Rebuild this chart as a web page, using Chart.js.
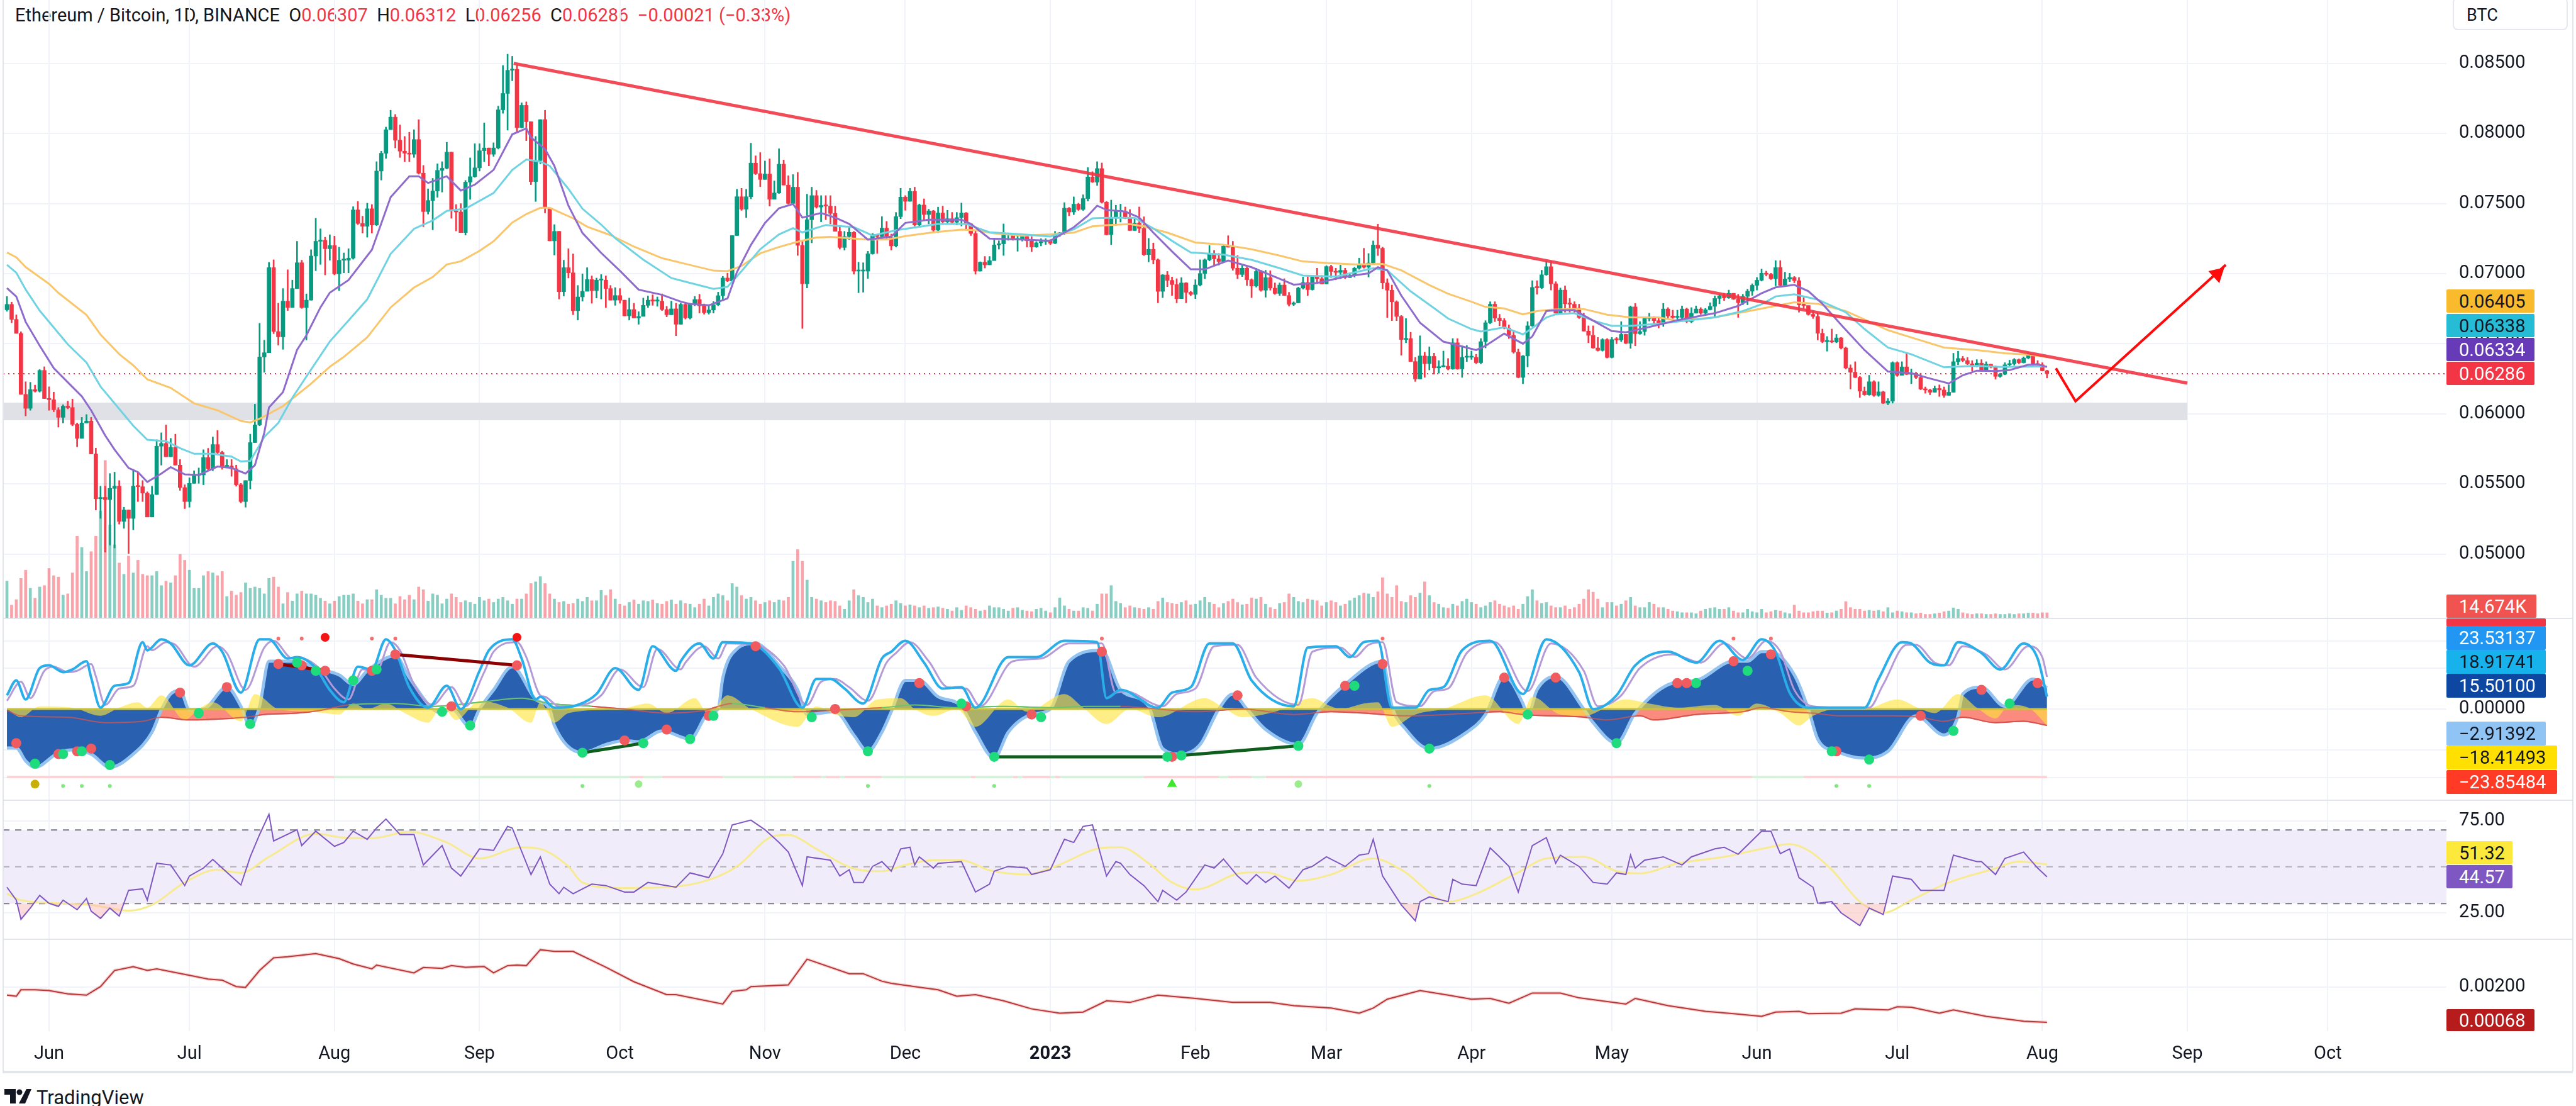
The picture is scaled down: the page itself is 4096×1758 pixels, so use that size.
<!DOCTYPE html>
<html><head><meta charset="utf-8"><title>Ethereum / Bitcoin</title>
<script src="https://cdn.jsdelivr.net/npm/chart.js@4/dist/chart.umd.js"></script>
<style>
html,body{margin:0;padding:0;background:#fff;width:4096px;height:1758px;overflow:hidden;font-family:Roboto,sans-serif;color:#131722}
canvas{position:absolute;left:5px;display:block}
.sep{position:absolute;background:#e3e5ec}
.tag{position:absolute;left:3890px;box-sizing:border-box;padding-left:20px;font-size:29px;display:flex;align-items:center;border-radius:2px;white-space:nowrap}
#head{position:absolute;left:24px;top:6px;font-size:29px;line-height:36px;white-space:pre}
#head b{font-weight:400;color:#f23645}
#btc{position:absolute;left:3900px;top:-4px;width:183px;height:52px;border:2px solid #e6e8ee;border-radius:8px;box-sizing:border-box;font-size:27px;padding:10px 0 0 20px}
#tv{position:absolute;left:58px;top:1724px;font-size:31px;font-weight:400;line-height:42px}
</style></head><body>
<div id="head">Ethereum / Bitcoin, 1D, BINANCE  O<b>0.06307</b>  H<b>0.06312</b>  L<b>0.06256</b>  C<b>0.06286</b>  <b>−0.00021 (−0.33%)</b></div>
<div id="btc">BTC</div>
<canvas id="cPrice" width="4091" height="982" style="top:0"></canvas>
<canvas id="cOsc" width="4091" height="289" style="top:982px"></canvas>
<canvas id="cRsi" width="4091" height="221" style="top:1271px"></canvas>
<canvas id="cLow" width="4091" height="211" style="top:1492px"></canvas>
<svg style="position:absolute;left:7px;top:1731px" width="44" height="24" viewBox="0 0 44 24"><polygon fill="#131722" points="0,0 18,0 18,23 9,23 9,9 0,9"/><circle fill="#131722" cx="24" cy="5" r="4.5"/><polygon fill="#131722" points="35,0 43,0 33,23 23,23"/></svg>
<div id="tv">TradingView</div>
<script>
// ---------- data: all day numbers count from 1 Jun 2022 ----------
const firstDay = -9;
const firstOpen = 6742;
// prices in 1/100000 BTC, one per daily candle
const closes = [6781,6674,6574,6139,6039,6173,6161,6310,6109,
6101,6029,5975,6055,6045,5925,5825,5935,5949,5714,
5394,5404,5388,5468,5484,5233,5314,5254,5484,5480,
5434,5264,5424,5769,5789,5694,5761,5634,5474,5374,
5504,5560,5564,5688,5608,5781,5724,5624,5628,5608,
5494,5374,5524,5795,5921,6406,6436,7043,6587,6549,
6804,6759,6894,7078,6759,6811,7126,7231,7238,7178,
7201,6999,7096,7096,7111,7455,7358,7338,7463,7347,
7732,7859,8027,8117,7952,7874,7859,7852,7957,7717,
7443,7522,7590,7737,7752,7867,7448,7440,7293,7653,
7692,7755,7877,7897,7852,7897,8169,8286,8451,8458,
8042,8201,8084,7657,7807,8099,7470,7234,7302,6871,
7043,7006,6736,6834,6874,6958,6879,6954,6954,6894,
6811,6844,6811,6699,6744,6684,6695,6774,6811,6804,
6804,6744,6707,6749,6639,6781,6684,6781,6816,6771,
6722,6741,6778,6843,6969,6948,7272,7549,7460,7549,
7789,7714,7672,7711,7531,7576,7781,7632,7501,7617,
7202,6928,7385,7557,7475,7487,7482,7430,7302,7187,
7265,7295,7018,7018,7018,7142,7280,7265,7325,7257,
7198,7407,7546,7516,7587,7347,7490,7422,7448,7310,
7433,7370,7392,7367,7400,7433,7355,7287,7018,7082,
7063,7093,7205,7213,7280,7280,7243,7243,7265,7235,
7190,7220,7228,7235,7217,7283,7287,7467,7440,7496,
7458,7536,7690,7653,7750,7510,7278,7401,7443,7446,
7395,7308,7361,7323,7136,7174,7099,6874,6991,6952,
6922,6822,6934,6867,6852,6919,7001,7099,7144,7106,
7087,7196,7189,7039,6994,7039,6957,6912,7016,6882,
6972,6897,6859,6919,6844,6781,6792,6897,6937,6886,
6979,6964,6927,7051,7016,7009,7024,6972,6987,7039,
7061,7046,7076,7204,7181,6934,6882,6799,6695,6530,
6537,6373,6249,6413,6358,6410,6328,6335,6340,6320,
6507,6320,6403,6403,6403,6365,6515,6650,6782,6683,
6665,6612,6560,6440,6260,6413,6628,6902,6899,6992,
7050,6928,6718,6883,6785,6782,6755,6688,6590,6560,
6470,6452,6530,6402,6530,6527,6567,6503,6763,6572,
6587,6680,6683,6665,6650,6748,6698,6688,6688,6748,
6658,6718,6748,6718,6743,6767,6823,6842,6827,6860,
6818,6793,6838,6875,6917,6953,7003,6995,6965,7044,
6917,6962,6973,6950,6778,6773,6710,6695,6575,6515,
6519,6512,6542,6470,6327,6297,6260,6162,6136,6229,
6132,6157,6076,6091,6365,6275,6335,6282,6290,6260,
6177,6170,6154,6181,6170,6132,6154,6372,6395,6380,
6357,6342,6362,6308,6354,6332,6267,6282,6350,6357,
6387,6365,6398,6417,6353,6350,6307,6286];
const highs = [6837,6797,6706,6586,6229,6225,6205,6316,6336,
6193,6155,6045,6065,6091,6105,5935,5975,5995,5975,
5755,5484,5484,5574,5584,5524,5334,5314,5604,5584,
5524,5444,5484,5815,5865,5921,5825,5855,5674,5494,
5544,5594,5614,5744,5754,5835,5881,5734,5674,5674,
5634,5504,5524,5855,6069,6646,6526,7081,7099,6789,
6894,7028,6954,7231,7096,6856,7171,7395,7320,7260,
7278,7268,7189,7148,7178,7478,7515,7410,7503,7493,
7799,7874,8046,8166,8136,8061,7979,8009,8027,8099,
7772,7605,7680,7784,7799,7937,7867,7493,7500,7665,
7826,7927,7927,8076,7897,7934,8196,8485,8566,8551,
8488,8219,8226,8084,7979,8099,8166,7470,7350,7302,
7096,7178,7141,6916,6999,7043,6984,6969,6994,6984,
6916,6901,6894,6811,6826,6789,6729,6826,6841,6849,
6834,6856,6767,6804,6789,6789,6796,6789,6838,6853,
6784,6771,6801,6868,6981,7003,7272,7602,7609,7602,
7931,7841,7864,7804,7819,7662,7891,7811,7699,7707,
7722,7228,7567,7617,7594,7557,7557,7557,7482,7340,
7302,7340,7302,7082,7078,7160,7287,7280,7407,7373,
7283,7437,7609,7557,7609,7617,7497,7534,7460,7452,
7475,7482,7452,7437,7437,7504,7437,7355,7310,7085,
7123,7123,7250,7235,7355,7287,7280,7272,7272,7272,
7265,7228,7250,7250,7243,7302,7295,7507,7473,7548,
7503,7563,7757,7728,7799,7790,7515,7525,7488,7496,
7476,7458,7391,7476,7406,7252,7219,7106,6994,7016,
6976,6964,6972,6937,6874,6957,7099,7106,7201,7166,
7144,7204,7271,7231,7129,7061,7046,6964,7039,7024,
7024,7021,6934,6934,6964,6867,6799,6904,6976,6979,
6982,7039,6987,7057,7061,7039,7061,7039,7006,7046,
7111,7181,7144,7234,7353,7189,6964,6919,6807,6702,
6680,6582,6403,6557,6440,6478,6433,6380,6448,6395,
6537,6537,6485,6488,6448,6425,6537,6665,6800,6800,
6710,6680,6635,6590,6462,6417,6658,6950,6950,7025,
7089,7089,6943,6898,6913,6823,6800,6782,6718,6628,
6628,6545,6537,6537,6545,6545,6658,6567,6770,6788,
6658,6688,6718,6695,6680,6788,6758,6740,6740,6770,
6755,6758,6770,6758,6752,6793,6842,6853,6860,6883,
6860,6853,6853,6890,6928,6973,7033,7018,7003,7093,
7093,7011,7003,6980,6973,6830,6770,6733,6718,6605,
6552,6605,6567,6545,6477,6350,6372,6267,6192,6275,
6237,6229,6162,6109,6372,6372,6372,6432,6320,6297,
6290,6192,6177,6199,6207,6192,6207,6432,6447,6410,
6402,6380,6387,6387,6372,6354,6342,6290,6365,6383,
6395,6392,6407,6440,6422,6380,6365,6312];
const lows = [6732,6650,6574,6139,5985,6025,6155,6155,6109,
6025,6015,5905,5935,6035,5915,5765,5825,5935,5714,
5314,5254,5013,5063,5043,5213,5183,5003,5173,5374,
5374,5264,5264,5424,5634,5694,5694,5634,5454,5324,
5334,5504,5504,5494,5594,5594,5714,5604,5614,5554,
5484,5364,5334,5464,5795,5915,6296,6437,6572,6490,
6460,6737,6759,6894,6752,6527,6811,7021,7066,6991,
7096,6991,6879,7006,7006,7103,7350,7290,7260,7290,
7343,7668,7822,8031,7897,7829,7799,7799,7829,7710,
7335,7425,7313,7545,7582,7747,7395,7305,7293,7275,
7530,7687,7732,7799,7769,7837,7889,8144,8024,8376,
8016,8039,7949,7635,7515,7784,7433,7234,7133,6819,
6841,6969,6707,6669,6804,6879,6789,6826,6819,6759,
6811,6774,6789,6699,6669,6684,6639,6699,6759,6774,
6767,6737,6692,6707,6557,6639,6676,6676,6771,6719,
6711,6711,6719,6771,6816,6943,6943,7272,7452,7400,
7534,7707,7621,7672,7482,7531,7572,7632,7497,7497,
7130,6609,6898,7220,7467,7370,7385,7355,7302,7175,
7168,7243,6996,6864,6868,6966,7138,7145,7243,7250,
7168,7190,7392,7452,7516,7340,7340,7385,7355,7292,
7292,7362,7362,7362,7347,7340,7313,7272,6996,7018,
7040,7063,7100,7175,7130,7238,7238,7160,7232,7190,
7157,7187,7198,7208,7208,7213,7265,7280,7413,7421,
7451,7451,7518,7650,7630,7503,7275,7207,7346,7368,
7391,7308,7308,7293,7129,7084,7069,6792,6829,6907,
6844,6792,6822,6792,6844,6822,6912,6964,7091,7061,
7061,7084,7189,7024,6964,6979,6916,6829,6904,6874,
6832,6882,6852,6844,6844,6769,6772,6792,6889,6844,
6882,6934,6927,6927,6972,6957,6964,6964,6972,6976,
7031,7039,6976,7069,7129,6892,6687,6665,6665,6418,
6507,6373,6231,6249,6260,6313,6283,6290,6335,6313,
6317,6317,6260,6373,6388,6358,6357,6470,6643,6658,
6628,6605,6537,6432,6257,6215,6335,6623,6853,6893,
6988,6883,6718,6718,6725,6725,6718,6680,6590,6507,
6467,6447,6447,6398,6398,6500,6515,6500,6467,6485,
6567,6560,6662,6638,6612,6623,6680,6680,6673,6673,
6650,6650,6718,6710,6703,6740,6688,6785,6808,6823,
6815,6688,6778,6778,6845,6883,6947,6983,6958,6913,
6913,6917,6943,6935,6725,6755,6703,6680,6527,6507,
6447,6507,6507,6462,6320,6177,6257,6117,6132,6132,
6124,6124,6072,6064,6076,6267,6282,6278,6215,6252,
6172,6147,6136,6154,6124,6117,6132,6154,6350,6372,
6350,6305,6335,6302,6308,6327,6247,6260,6278,6338,
6347,6357,6362,6392,6350,6347,6305,6256];
const volumes = [107,37,53,115,139,86,57,90,94,
144,123,119,66,70,131,238,205,135,193,
238,312,459,271,213,160,127,180,131,168,
127,123,123,135,94,107,102,123,185,168,
139,86,86,123,135,131,123,135,62,78,
66,74,102,86,90,86,70,115,119,90,
41,74,49,70,78,70,70,66,57,49,
41,49,62,66,66,70,49,41,53,53,
82,66,57,57,41,62,53,66,53,90,
82,49,70,66,41,55,70,60,45,50,
45,40,60,50,55,45,55,60,50,40,
55,55,70,100,105,120,100,70,55,45,
48,40,42,55,48,60,50,50,80,65,
82,55,40,35,45,52,40,50,48,52,
42,40,48,52,40,50,42,40,30,40,
55,35,60,70,65,50,100,90,65,55,
60,50,40,45,50,45,52,50,60,165,
199,165,110,60,55,50,45,50,48,35,
25,50,82,65,60,45,55,35,30,35,
40,50,42,35,38,35,30,35,28,30,
32,28,25,20,30,22,35,30,25,20,
22,35,30,30,25,20,28,30,22,20,
18,25,28,20,15,30,58,35,25,20,
20,30,28,20,40,70,70,94,48,42,
30,35,30,28,25,30,25,48,58,45,
42,40,45,50,38,40,50,60,45,40,
30,42,48,55,45,38,40,58,55,60,
40,30,25,42,45,70,60,48,45,55,
52,50,35,45,50,45,35,40,50,58,
65,72,70,60,76,117,70,60,94,48,
45,65,60,72,105,65,45,40,30,28,
40,35,48,55,45,40,30,35,45,50,
40,35,30,35,25,40,62,82,50,42,
45,35,30,30,35,25,30,40,55,82,
75,55,30,45,45,35,40,50,60,35,
30,30,45,40,30,30,25,20,18,15,
15,15,12,20,25,28,30,25,25,30,
20,15,15,25,18,15,25,15,18,22,
20,15,12,37,20,15,15,18,20,20,
14,15,20,25,47,30,25,25,20,22,
20,22,18,30,15,20,18,15,15,12,
14,10,10,12,14,18,20,29,25,15,
12,10,12,12,10,10,12,10,10,12,
10,12,12,14,14,12,15,14.674];
// moving averages: [day, price]
const emaSlow = [[-9,7151],[-7,7117],[-5,7047],[0,6927],[2,6863],[8,6706],[11,6566],[15,6426],[18,6346],[21,6246],[26,6185],[31,6075],[36,6025],[41,5949],[43,5939],[45,5965],[50,6055],[53,6135],[56,6215],[60,6336],[63,6406],[68,6546],[73,6759],[78,6901],[82,6976],[85,7066],[88,7088],[92,7163],[95,7231],[99,7365],[102,7425],[105,7470],[107,7470],[112,7395],[115,7335],[120,7275],[125,7193],[131,7111],[136,7070],[142,7022],[145,7018],[148,7055],[152,7145],[156,7190],[160,7228],[164,7258],[167,7262],[172,7250],[175,7243],[179,7243],[183,7268],[189,7295],[195,7314],[198,7310],[202,7287],[208,7272],[214,7280],[219,7293],[223,7338],[226,7346],[231,7353],[234,7338],[239,7293],[245,7222],[251,7207],[257,7174],[263,7129],[268,7087],[273,7076],[279,7066],[285,7069],[289,7024],[295,6919],[299,6857],[304,6800],[307,6763],[311,6752],[315,6710],[318,6733],[321,6743],[325,6748],[328,6748],[333,6707],[338,6688],[344,6688],[348,6665],[356,6688],[362,6725],[369,6770],[373,6796],[378,6785],[384,6733],[388,6673],[393,6597],[398,6545],[405,6473],[412,6455],[418,6432],[423,6422],[427,6405]];
const emaMid = [[-9,7063],[-7,7007],[-5,6887],[-2,6736],[1,6616],[4,6496],[8,6366],[11,6195],[15,6035],[18,5915],[21,5815],[25,5805],[28,5755],[31,5715],[35,5715],[39,5695],[41,5660],[43,5665],[46,5835],[49,5935],[52,6115],[55,6266],[60,6516],[64,6666],[68,6817],[73,7141],[78,7320],[82,7380],[85,7448],[89,7463],[95,7575],[99,7740],[102,7814],[105,7799],[107,7769],[111,7605],[114,7463],[118,7350],[121,7253],[127,7100],[133,6969],[136,6943],[142,6891],[145,6906],[148,7018],[152,7175],[156,7280],[159,7325],[161,7295],[166,7347],[172,7332],[176,7272],[181,7310],[190,7355],[196,7355],[201,7295],[208,7280],[214,7265],[219,7316],[223,7395],[226,7398],[232,7398],[236,7323],[240,7234],[244,7151],[251,7136],[257,7099],[263,7039],[268,6987],[275,6979],[283,7039],[286,7024],[291,6874],[296,6754],[299,6680],[304,6605],[306,6587],[311,6617],[315,6567],[317,6612],[320,6688],[322,6710],[326,6718],[330,6665],[334,6628],[338,6628],[344,6643],[356,6688],[362,6733],[366,6782],[369,6838],[373,6853],[378,6815],[384,6725],[388,6605],[393,6473],[398,6425],[405,6332],[412,6342],[417,6335],[427,6338]];
const emaFast = [[-9,6897],[-7,6837],[-5,6656],[-2,6486],[1,6326],[4,6225],[7,6125],[9,6025],[12,5845],[14,5745],[17,5614],[19,5584],[21,5514],[24,5574],[26,5620],[29,5568],[32,5564],[36,5624],[39,5614],[42,5574],[44,5634],[46,5865],[47,6045],[50,6155],[53,6456],[55,6560],[58,6759],[60,6864],[64,6954],[69,7171],[73,7545],[77,7695],[79,7695],[81,7647],[85,7695],[88,7593],[91,7635],[95,7740],[99,7994],[102,8036],[103,7972],[106,7889],[108,7769],[111,7485],[114,7290],[118,7148],[122,7021],[126,6886],[131,6849],[135,6801],[137,6784],[141,6774],[145,6823],[147,7010],[150,7205],[153,7362],[156,7467],[159,7497],[161,7400],[165,7433],[168,7400],[171,7355],[175,7243],[180,7265],[183,7362],[188,7385],[195,7385],[197,7355],[201,7250],[208,7243],[214,7235],[219,7331],[222,7413],[224,7485],[226,7455],[230,7443],[233,7401],[236,7293],[240,7159],[244,7031],[247,7031],[252,7094],[257,7046],[263,6964],[266,6922],[271,6934],[277,6979],[282,7002],[284,7046],[286,7024],[289,6844],[293,6650],[298,6515],[305,6455],[307,6485],[311,6572],[315,6500],[317,6552],[320,6733],[322,6740],[326,6740],[330,6665],[334,6590],[337,6582],[342,6620],[348,6668],[356,6718],[361,6770],[366,6860],[369,6902],[373,6920],[376,6875],[379,6785],[383,6635],[388,6455],[393,6302],[398,6290],[402,6252],[406,6217],[409,6275],[412,6308],[416,6305],[419,6312],[423,6350],[425,6353],[427,6334]];
const trendLine = [[99.3,8500],[457,6219]];
const arrowLine = [[428.9,6325],[433.1,6090],[465.2,7063]];
const arrowTip = [[463.4,6998]];
const supportZone = {fromDay:-9.81, toDay:457, top:6080, bottom:5954};
const lastClose = 6286;
const priceTicks = [5000,5500,6000,6500,7000,7500,8000,8500];
// oscillator pane: [day, value]
const waveArea = [[-9,-28.6],[-7,-28.6],[-5,-38],[-3,-42.7],[2,-32],[5,-30],[9,-33],[13,-42.7],[18,-33],[22,-17],[24,-.5],[26,11],[28,13.6],[30,-.5],[33,0],[38,16],[41,2],[43,-13],[45,2],[47,35],[53,35],[57,30],[62,25],[65,18],[68,28],[74,39],[77,23],[82,0],[84,-3],[86,0],[90,-13],[92,0],[95,14],[99,31],[104,7],[107,0],[108,-12],[114,-32],[119,-26],[123,-23],[126,-24],[131,-16],[137,-22],[141,-3],[143,0],[144,23],[147,44],[151,48],[156,32],[160,14],[162,-4],[168,-2],[172,-19],[175,-31],[178,-17],[180,-2],[183,21],[186,21],[190,9],[195,2],[198,-17],[202,-36],[205,-17],[210,-4],[214,0],[218,35],[225,43],[229,14],[235,2],[238,-29],[242,-33],[246,-26],[250,0],[253,11],[256,0],[260,-15],[267,-26],[271,-3],[277,18],[285,35],[287,2],[290,-15],[295,-29],[303,-17],[307,-4],[311,24],[315,4],[316,-5],[318,14],[322,24],[328,0],[330,-10],[335,-25],[339,-3],[347,19],[352,21],[360,35],[363,35],[366,42],[368,42],[373,25],[376,0],[378,-22],[382,-31],[388,-36],[393,-31],[399,-5],[405,-19],[408,-5],[409,11],[413,16],[418,2],[424,22],[427,15.5]];
const waveFast = [[-9,10],[-7,21],[-5,7],[-2,30],[0,32],[3,27],[5,29],[8,35],[9,23],[11,1],[14,17],[17,19],[20,49],[21,43],[24,51],[26,48],[30,32],[35,48],[37,42],[41,12],[45,51],[47,51],[51,37],[53,38],[57,30],[60,14],[63,5],[66,31],[69,29],[72,51],[74,43],[77,16],[81,1],[85,17],[88,0],[92,28],[94,43],[99,51],[101,37],[104,7],[105,9],[108,1],[113,3],[117,11],[121,30],[126,14],[129,46],[134,28],[135,35],[139,48],[142,37],[144,49],[150,48],[156,30],[161,1],[164,22],[167,22],[170,15],[174,4],[178,37],[180,42],[183,50],[187,34],[191,15],[195,16],[198,1],[205,38],[211,38],[217,50],[224,49],[226,8],[229,14],[237,1],[240,12],[244,16],[248,48],[253,48],[257,21],[266,2],[269,45],[275,46],[278,38],[281,49],[284,50],[287,1],[292,1],[295,14],[298,16],[302,43],[308,50],[315,11],[320,51],[327,27],[330,0],[335,10],[339,32],[346,42],[352,34],[357,50],[362,36],[366,51],[369,42],[372,12],[376,1],[382,1],[388,1],[391,22],[396,49],[398,48],[402,34],[405,32],[408,49],[413,41],[417,29],[422,48],[425,37],[427,9]];
const waveSlow = [[-9,6],[-6,20],[-4,8],[-1,28],[1,31],[4,27],[6,28],[9,33],[10,24],[12,3],[15,15],[18,17],[21,46],[22,43],[25,49],[27,47],[31,31],[36,46],[38,41],[42,14],[46,45],[48,50],[52,37],[54,37],[58,29],[61,15],[64,7],[67,29],[70,28],[73,49],[75,43],[78,18],[82,3],[86,16],[89,2],[93,27],[95,42],[100,49],[102,38],[105,10],[106,9],[109,2],[114,3],[118,10],[122,29],[127,16],[130,44],[135,29],[136,34],[140,46],[143,37],[145,48],[151,47],[157,32],[162,3],[165,20],[168,22],[171,16],[175,6],[179,34],[181,41],[184,49],[188,35],[192,16],[196,15],[199,2],[206,35],[212,37],[218,48],[225,48],[228,12],[230,13],[238,2],[241,11],[245,15],[249,46],[254,47],[258,23],[267,3],[270,42],[276,45],[279,38],[282,47],[285,49],[288,5],[293,2],[296,13],[299,15],[303,41],[309,49],[316,13],[321,48],[328,28],[331,2],[336,10],[340,30],[347,40],[353,34],[358,48],[363,37],[367,50],[370,42],[373,14],[377,2],[383,1],[389,1],[392,18],[397,47],[399,47],[403,34],[406,32],[409,46],[414,40],[418,29],[423,46],[426,38],[427,23.5]];
const yellowHist = [[-9,0],[-6,-6],[-2,2],[5,1],[11,-5],[15,1],[19,5],[21,1],[24,10],[29,-8],[32,0],[35,5],[41,-9],[44,11],[49,0],[56,-2],[62,-4],[65,4],[68,0],[72,4],[76,-3],[81,-10],[84,2],[87,-8],[92,6],[98,1],[103,-10],[105,5],[108,-10],[111,-3],[122,0],[128,4],[132,-3],[138,8],[141,-4],[145,10],[150,0],[160,-13],[164,2],[168,-4],[172,-6],[177,7],[182,8],[185,0],[189,-5],[194,0],[198,-13],[205,7],[209,-2],[217,11],[221,1],[226,-11],[231,0],[237,-6],[247,8],[251,1],[255,-6],[262,-2],[270,8],[274,2],[276,0],[281,4],[284,5],[287,-13],[292,-4],[298,0],[307,10],[314,-11],[317,9],[323,-4],[328,-5],[337,7],[342,4],[348,1],[356,3],[361,-5],[365,4],[370,-3],[374,-12],[377,-5],[382,0],[388,0],[395,7],[400,0],[403,-3],[408,11],[412,1],[416,-7],[419,3],[423,1],[427,-12]];
const moneyFlow = [[-9,-1],[-6,-5],[4,-6],[12,-10],[20,-9],[24,-6],[30,-8],[38,-7],[42,-6],[46,-4],[53,-3],[58,-1],[64,3],[74,4],[82,2],[92,5],[101,8],[107,4],[116,2],[123,0],[132,-3],[140,-1],[146,4],[153,1],[160,-2],[167,-1],[178,1],[185,3],[194,1],[204,2],[214,1],[222,2],[229,2],[237,0],[245,-2],[255,0],[266,-4],[274,-2],[281,-3],[290,-5],[304,-3],[310,-2],[315,-4],[328,-6],[333,-8],[340,-5],[343,-8],[352,-4],[362,-2],[366,1],[372,-2],[377,-3],[383,-5],[394,-5],[400,-6],[405,-9],[409,-6],[416,-10],[422,-9],[427,-12]];
const redDots = [[-7,-25],[2,-33],[6,-31],[9,-29],[28,12],[38,16],[49,33],[54,32],[59,28],[69,28],[74,40],[86,2],[100,32],[123,-23],[132,-15],[141,-5],[151,46],[168,0],[186,19],[196,2],[210,-4],[225,42],[240,-35],[254,10],[277,17],[285,33],[311,23],[322,23],[348,19],[350,19],[360,35],[368,40],[382,-31],[400,-5],[413,14],[425,19]];
const greenDots = [[-3,-40],[3,-33],[7,-31],[13,-41],[32,-3],[43,-11],[53,34],[57,28],[65,21],[70,29],[84,-2],[90,-12],[114,-32],[127,-25],[137,-22],[142,-5],[163,-6],[175,-31],[195,4],[202,-35],[212,-6],[239,-35],[242,-34],[267,-27],[279,17],[295,-29],[316,-4],[335,-25],[352,19],[363,28],[381,-31],[389,-37],[407,-16],[419,4]];
const topSmallDots = [[49,51.6],[54,51.6],[69,51.6],[74,51.6],[225,51.6],[285,51.6],[360,51.6],[368,51.6]];
const topBigDots = [[59,52.5],[100,52.5]];
const lowSmallDots = [[3,-56.3],[7,-56.3],[13,-56.3],[114,-56.3],[175,-56.3],[202,-56.3],[295,-56.3],[382,-56.3],[389,-56.3]];
const lowOliveDot = [[-3,-55]];
const lowLimeDots = [[126,-55],[267,-55]];
const lowTriangle = [[240,-55]];
const bearDiv = [[[49,33],[59,28]],[[74,40],[100,32]]];
const bullDiv = [[[114,-32],[127,-25]],[[202,-35],[239,-35]],[[242,-34],[267,-27]]];
const stateStrip = [[-9,61,'r'],[61,124,'g'],[124,127,'r'],[127,131,'g'],[131,144,'r'],[144,159,'g'],[159,165,'r'],[165,166,'g'],[166,169,'r'],[169,170,'g'],[170,178,'r'],[178,197,'g'],[197,198,'r'],[198,206,'g'],[206,207,'r'],[207,208,'g'],[208,214,'r'],[214,215,'g'],[215,216,'r'],[216,234,'g'],[234,250,'r'],[250,252,'g'],[252,257,'r'],[257,260,'g'],[260,364,'r'],[364,370,'g'],[370,375,'g'],[375,427,'r']];
const stripLevel = -49.8;
const oscTicks = [-50,-30,0,30,50];
// RSI pane
const rsiLine = [[-9,38.9],[-7,31.9],[-6,21.5],[-4,27.6],[-2,34.5],[0,30.2],[2,28.5],[3,31.9],[6,26.7],[8,32.8],[9,25.9],[11,22],[13,27.6],[15,23.3],[17,37.2],[20,38],[21,31.9],[23,51.9],[26,51],[29,39.8],[30,45],[33,49.3],[35,54],[37,49.3],[41,40.1],[43,55.4],[45,67.5],[47,78.5],[48,64],[53,70.1],[54,61.5],[57,69.3],[61,61.1],[63,63.2],[65,69.3],[68,64.9],[70,71],[72,75.9],[75,67.5],[78,67.5],[80,51],[84,61.5],[86,49.3],[88,45],[92,59.7],[95,58.9],[98,71.9],[99,71],[103,45.8],[105,55.4],[107,40.6],[109,35.4],[110,38.9],[112,35.4],[116,40.6],[119,39.8],[123,36.3],[125,36.3],[128,41.5],[134,38.9],[137,46.7],[141,44.1],[144,57.1],[146,72.7],[150,75.3],[153,70.1],[156,63.2],[158,58],[161,39.8],[162,55.4],[167,53.6],[169,45],[171,48.4],[172,41.5],[174,41.5],[176,50.2],[178,52.8],[180,47.6],[182,59.7],[184,60.6],[185,51],[186,55.4],[189,49.3],[190,51.9],[195,52.8],[198,36.3],[201,40.6],[202,47.6],[205,50.2],[209,49.3],[210,45.8],[214,48.4],[217,64.9],[219,63.2],[221,71.9],[223,72.7],[226,45],[228,52.8],[229,51.9],[231,45.8],[234,39.8],[237,31.1],[238,37.2],[241,31.9],[243,36.3],[247,51],[249,49.3],[251,54.2],[254,45],[256,40.6],[258,45.8],[260,41.5],[262,45],[265,38.4],[268,48.4],[270,50.2],[273,55.4],[277,50.2],[280,56.3],[282,57.1],[283,64.9],[285,45],[289,29.3],[292,20.7],[293,31.1],[295,33.7],[299,31.1],[300,43.2],[302,40.6],[305,39.8],[308,60.2],[310,55.4],[312,50.2],[314,36.3],[317,61.5],[320,65.8],[322,51.9],[323,56.3],[327,50.2],[330,41.5],[333,40.6],[335,46.7],[337,45.8],[338,56.3],[339,49.3],[341,53.6],[345,55.4],[349,51],[351,55.4],[356,59.7],[358,60.6],[361,56.8],[366,69.3],[368,69.3],[370,57.1],[372,59.7],[374,44.1],[377,38.9],[378,30.2],[381,31.1],[383,25],[387,18.1],[389,27.6],[392,24.1],[394,45],[398,43.2],[400,37.2],[405,37.2],[407,56.3],[412,52.8],[413,52.8],[416,45.8],[418,54.5],[422,58],[425,49.3],[427,44.57]];
const rsiAverage = [[-9,35.4],[-6,31.9],[2,30.2],[9,29.3],[17,26.2],[22,29.3],[29,41.5],[36,48.4],[41,46.7],[47,55.4],[57,67.9],[63,65.8],[69,65.5],[77,68.9],[85,63.2],[92,54.5],[101,60.6],[105,59.7],[111,50.2],[114,41.5],[122,38.5],[132,38.9],[141,42.9],[147,50.2],[155,66.7],[158,67.2],[164,59.7],[170,51],[173,48.4],[178,47.6],[183,51],[189,53.6],[195,53.6],[201,48.1],[209,45.8],[215,50.2],[225,60.2],[229,60.6],[235,51.9],[240,41.5],[245,37.7],[255,46.7],[260,47],[267,42.4],[274,45.8],[283,54.5],[289,48.4],[299,31.1],[305,35.4],[314,47],[320,54.5],[328,55.4],[335,47.6],[340,46.4],[348,51.9],[358,55.4],[366,59.7],[372,62.3],[376,58.9],[381,48.4],[387,31.1],[392,25],[398,31.9],[406,41.5],[415,48.4],[421,52.8],[427,51.32]];
const rsiTicks = [25,75];
// lowest pane: [day, value in 1/100000]
const lowerLine = [[-9,169],[-7,165],[-6,189],[-3,189],[0,186],[4,174],[8,169],[11,201],[14,261],[18,275],[21,261],[23,267],[30,243],[34,229],[37,225],[40,201],[42,198],[45,261],[48,308],[51,312],[57,324],[62,305],[65,285],[69,267],[70,281],[78,252],[80,272],[84,269],[86,279],[89,273],[93,276],[95,252],[98,279],[100,281],[102,279],[105,338],[108,332],[112,332],[119,273],[125,219],[132,171],[134,171],[144,136],[146,183],[149,189],[150,201],[158,207],[162,303],[171,249],[174,249],[178,221],[180,213],[185,201],[190,189],[194,165],[198,171],[204,148],[210,118],[216,102],[221,106],[226,148],[231,142],[237,169],[245,157],[253,142],[261,142],[266,130],[274,121],[280,102],[283,121],[286,154],[293,186],[299,169],[304,154],[308,157],[312,139],[317,177],[323,177],[327,159],[337,136],[339,157],[346,130],[354,109],[360,100],[366,90],[369,106],[374,109],[376,100],[383,102],[386,118],[393,114],[395,126],[398,124],[404,102],[407,114],[414,90],[422,72],[427,68]];
// time axis
const monthDays = [0,30,61,92,122,153,183,214,245,273,304,334,365,395,426,457,487];
const monthNames = ['Jun','Jul','Aug','Sep','Oct','Nov','Dec','2023','Feb','Mar','Apr','May','Jun','Jul','Aug','Sep','Oct'];
// right-hand value tags
const tagList = [
 ['0.06405',460,37,140,'#f9bb2d','#131722'],['0.06338',499,37,140,'#26bcd6','#131722'],['0.06334',537,37,140,'#673ab7','#fff'],['0.06286',575,37,140,'#f23645','#fff'],
 ['14.674K',945,37,143,'#f05350','#fff'],['',983,13,158,'#f23645','#fff'],
 ['23.53137',995,38,158,'#2196f3','#fff'],['18.91741',1033,38,158,'#17b2ec','#131722'],['15.50100',1071,38,158,'#0d47a1','#fff'],
 ['−2.91392',1147,38,158,'#90c4f5','#131722'],['−18.41493',1185,38,176,'#ffe000','#131722'],['−23.85484',1224,38,176,'#ff3b26','#fff'],
 ['51.32',1337,37,105,'#fde93b','#131722'],['44.57',1375,37,105,'#7e57c2','#fff'],
 ['0.00068',1604,35,140,'#b71c1c','#fff']];
const separators = [[4,0,2,1703],[4,982,4087,2],[4,1271,4087,2],[4,1492,4087,2],[4,1702,4087,4],[4090,0,2,1703]];

// ---------- build ----------
if (closes.length!==437||highs.length!==437||lows.length!==437||volumes.length!==437)
  throw new Error('lengths '+[closes.length,highs.length,lows.length,volumes.length]);
const XMIN=-9.81, XMAX=512.37, GRID='#f0f3fa', FONT='Roboto', TXT='#131722';
const pr=v=>v/100000;
const toXY=(a,f=v=>v)=>a.map(([x,y])=>({x,y:f(y)}));
const line=(data,color,width,order,extra={})=>Object.assign({type:'line',data,borderColor:color,borderWidth:width,pointRadius:0,order,fill:false,tension:0,yAxisID:'y'},extra);
const dots=(pts,color,r,order,style='circle')=>({type:'line',data:toXY(pts),showLine:false,pointRadius:r,pointBackgroundColor:color,pointBorderWidth:0,pointStyle:style,order,yAxisID:'y'});
function xAxis(labels){
 return {type:'linear',min:XMIN,max:XMAX,offset:false,
  grid:{color:GRID,lineWidth:2,drawTicks:false,offset:false},border:{display:false},
  afterBuildTicks:s=>{s.ticks=monthDays.map(value=>({value}))},
  afterFit:s=>{s.height=labels?64:0;s.paddingLeft=0;s.paddingRight=0;s._margins={left:0,right:0,top:0,bottom:0}},
  ticks:{display:labels,autoSkip:false,maxRotation:0,color:TXT,padding:19,
   callback:v=>monthNames[monthDays.indexOf(v)],
   font:c=>({family:FONT,size:29,weight:(c.tick&&c.tick.value===214)?'700':'400'})}};
}
function yAxis(min,max,ticks,fmt){
 return {type:'linear',position:'right',min,max,beginAtZero:false,
  grid:{color:GRID,lineWidth:2,drawTicks:false},border:{display:false},
  afterBuildTicks:s=>{s.ticks=ticks.map(value=>({value}))},
  afterFit:s=>{s.width=206;s.paddingTop=0;s.paddingBottom=0;s._margins={left:0,right:0,top:0,bottom:0}},
  ticks:{autoSkip:false,color:TXT,padding:20,callback:fmt,font:{family:FONT,size:29}}};
}
function make(id,datasets,scales){
 return new Chart(document.getElementById(id),{type:'bar',data:{datasets},options:{
  responsive:false,animation:false,devicePixelRatio:1,layout:{autoPadding:false,padding:0},
  events:[],plugins:{legend:{display:false},tooltip:{enabled:false}},scales}});
}
const days=closes.map((_,i)=>firstDay+i);
const opens=closes.map((_,i)=>i?closes[i-1]:firstOpen);
const UP='#089981',DN='#f23645';
const isUp=i=>closes[i]>=opens[i];
const candleColors=days.map((_,i)=>isUp(i)?UP:DN);
const bar=(data,colors,w,order,yAxisID='y')=>({type:'bar',data,backgroundColor:colors,borderWidth:0,barThickness:w,grouped:false,minBarLength:2,order,yAxisID});
make('cPrice',[
 line([{x:supportZone.fromDay,y:pr(supportZone.top)},{x:supportZone.toDay,y:pr(supportZone.top)}],'rgba(0,0,0,0)',0,100,{fill:{target:{value:pr(supportZone.bottom)},above:'#dfe1e7',below:'#dfe1e7'},backgroundColor:'#dfe1e7'}),
 line([{x:XMIN,y:pr(lastClose)},{x:XMAX,y:pr(lastClose)}],DN,2,90,{borderDash:[2,6]}),
 bar(days.map((x,i)=>({x,y:volumes[i]})),days.map((_,i)=>isUp(i)?'rgba(8,153,129,.48)':'rgba(242,54,69,.45)'),4,80,'yV'),
 bar(days.map((x,i)=>({x,y:[pr(lows[i]),pr(highs[i])]})),candleColors,2,60),
 bar(days.map((x,i)=>({x,y:[pr(opens[i]),pr(closes[i])]})),candleColors,6,50),
 line(toXY(emaSlow,pr),'#f9c66b',3,42),
 line(toXY(emaMid,pr),'#6fd3e2',3,41),
 line(toXY(emaFast,pr),'#8f6bcb',3,40),
 line(toXY(trendLine,pr),'rgba(242,54,69,.9)',5,30),
 line(toXY(arrowLine,pr),'#ff0a0a',4,20),
 {type:'line',data:toXY(arrowTip,pr),showLine:false,pointStyle:'triangle',pointRadius:15,pointRotation:47.6,pointBackgroundColor:'#ff0a0a',pointBorderWidth:0,order:19,yAxisID:'y'}
],{x:xAxis(false),y:yAxis(pr(8500-(982-100.8)/0.2228),pr(8500+100.8/0.2228),priceTicks.map(pr),v=>v.toFixed(5)),
   yV:{type:'linear',display:false,min:0,max:982/.545,beginAtZero:true}});

const mono={cubicInterpolationMode:'monotone'};
const stripSets=stateStrip.map(([a,b,k])=>line([{x:a,y:stripLevel},{x:b,y:stripLevel}],k==='r'?'#fdd3d6':'#d5f3d8',4,70));
const divSets=(arr,c)=>arr.map(s=>line(toXY(s),c,5,25));
make('cOsc',[
 ...stripSets,
 line(toXY(moneyFlow),'#d6544e',2,55,Object.assign({fill:{target:'origin',above:'rgba(0,0,0,0)',below:'rgba(250,118,104,.85)'},segment:{borderColor:c=>(c.p0.parsed.y>0&&c.p1.parsed.y>0)?'#6cc36e':'#d6544e'}},mono)),
 line(toXY(waveArea),'#93c3f0',5,50,Object.assign({fill:{target:'origin',above:'#2a60b0',below:'#2a60b0'},backgroundColor:'#2a60b0'},mono)),
 line(toXY(yellowHist),'rgba(0,0,0,0)',0,45,Object.assign({fill:{target:'origin',above:'rgba(255,228,60,.62)',below:'rgba(255,228,60,.62)'}},mono)),
 line([{x:-9,y:0},{x:427,y:0}],'#c9c23e',3,44),
 line(toXY(moneyFlow),'rgba(214,84,78,.75)',2,43,Object.assign({segment:{borderColor:c=>(c.p0.parsed.y>0&&c.p1.parsed.y>0)?'#6cc36e':'rgba(214,84,78,.75)'}},mono)),
 line(toXY(waveSlow),'#b49ad6',3,32,mono),
 line(toXY(waveFast),'#2aaeea',4,31,mono),
 ...divSets(bearDiv,'#8b0000'),...divSets(bullDiv,'#0f5e1e'),
 dots(redDots,'#ef5b5e',8,12),dots(greenDots,'#1edc7c',8,11),
 dots(topSmallDots,'#f4706f',3,10),dots(topBigDots,'#f51414',7,10),
 dots(lowSmallDots,'#7fe97f',3,10),dots(lowOliveDot,'#c9ae08',7,10),dots(lowLimeDots,'#9ceb8e',6,10),dots(lowTriangle,'#3ee82f',9,10,'triangle')
],{x:xAxis(false),y:yAxis(-144/2.17,145/2.17,oscTicks,v=>v===0?'0.00000':'')});

make('cRsi',[
 line([{x:XMIN,y:70},{x:XMAX,y:70}],'rgba(0,0,0,0)',0,90,{fill:{target:{value:30},above:'#f1ecf9',below:'#f1ecf9'}}),
 line([{x:XMIN,y:70},{x:XMAX,y:70}],'#787b86',2,80,{borderDash:[10,9]}),
 line([{x:XMIN,y:50},{x:XMAX,y:50}],'#b2b3ba',2,80,{borderDash:[10,9]}),
 line([{x:XMIN,y:30},{x:XMAX,y:30}],'#787b86',2,80,{borderDash:[10,9]}),
 line(toXY(rsiAverage),'#f8ea8f',3,40,mono),
 line(toXY(rsiLine),'#7e57c2',2,30,{fill:{target:{value:30},above:'rgba(0,0,0,0)',below:'rgba(250,190,190,.55)'}})
],{x:xAxis(false),y:yAxis(75-187.5/2.93,75+33.5/2.93,rsiTicks,v=>v.toFixed(2))});

make('cLow',[
 line(toXY(lowerLine,pr),'rgba(240,170,170,.5)',5,30),
 line(toXY(lowerLine,pr),'#b8383a',2,29)
],{x:xAxis(true),y:yAxis(pr(200-70.4/.427),pr(200+76.6/.427),[0.002],v=>v.toFixed(5))});

separators.forEach(([l,t,w,h])=>{const d=document.createElement('div');d.className='sep';d.style.cssText=`left:${l}px;top:${t}px;width:${w}px;height:${h}px`;document.body.appendChild(d)});
tagList.forEach(([txt,t,h,w,bg,fg])=>{const d=document.createElement('div');d.className='tag';d.textContent=txt;d.style.cssText=`top:${t}px;height:${h}px;width:${w}px;background:${bg};color:${fg}`;document.body.appendChild(d)});
</script></body></html>
